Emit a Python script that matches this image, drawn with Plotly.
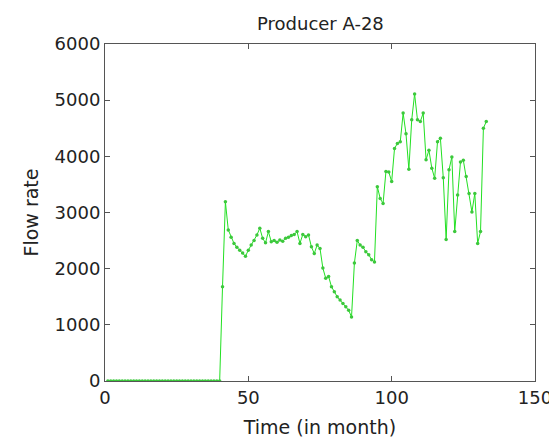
import plotly.graph_objects as go

# Months 1..40 produce nothing, then values for months 41..133
zero_months = list(range(1, 41))
zero_values = [0] * 40

prod_months = list(range(41, 134))
prod_values = [
    1680, 3190, 2690, 2560, 2450, 2380, 2330, 2280, 2220, 2330,   # 41-50
    2420, 2500, 2600, 2720, 2540, 2460, 2660, 2480, 2500, 2470,   # 51-60
    2510, 2490, 2540, 2560, 2590, 2610, 2660, 2450, 2610, 2570,   # 61-70
    2600, 2390, 2270, 2420, 2360, 2010, 1830, 1860, 1680, 1590,   # 71-80
    1500, 1440, 1380, 1320, 1260, 1140, 2100, 2500, 2420, 2380,   # 81-90
    2300, 2250, 2160, 2120, 3460, 3250, 3160, 3730, 3720, 3550,   # 91-100
    4140, 4230, 4260, 4770, 4400, 3770, 4650, 5110, 4650, 4620,   # 101-110
    4770, 3940, 4110, 3790, 3610, 4260, 4320, 3620, 2520, 3760,   # 111-120
    3990, 2660, 3310, 3900, 3930, 3640, 3340, 3010, 3340, 2450,   # 121-130
    2660, 4500, 4620,                                             # 131-133
]

months = zero_months + prod_months
values = zero_values + prod_values

x_ticks = [0, 50, 100, 150]
y_ticks = [0, 1000, 2000, 3000, 4000, 5000, 6000]

title_text = "Producer A-28"
x_title = "Time (in month)"
y_title = "Flow rate"

green = "#22e022"
font_family = "DejaVu Sans, Arial, sans-serif"

fig = go.Figure()
fig.add_trace(go.Scatter(
    x=months, y=values, mode="lines+markers",
    line=dict(color=green, width=1),
    marker=dict(color="#3cc83c", size=3.5),
    showlegend=False,
))

axis_common = dict(
    showline=True, linecolor="#555555", linewidth=1, mirror="ticks",
    ticks="inside", ticklen=5, tickcolor="#555555",
    showgrid=False, zeroline=False,
    tickfont=dict(family=font_family, size=18, color="#222222"),
)

fig.update_layout(
    width=557, height=445,
    margin=dict(l=97, r=30, t=36, b=72),
    paper_bgcolor="white", plot_bgcolor="white",
    xaxis=dict(range=[0, 150], tickvals=x_ticks,
               title=dict(text=x_title, standoff=14,
                          font=dict(family=font_family, size=19, color="#222222")),
               **axis_common),
    yaxis=dict(range=[0, 6000], tickvals=y_ticks,
               title=dict(text=y_title, standoff=10,
                          font=dict(family=font_family, size=19, color="#222222")),
               **axis_common),
    annotations=[dict(
        text=title_text, xref="paper", yref="paper", x=0.5, y=1,
        xanchor="center", yanchor="top", yshift=33, showarrow=False,
        font=dict(family=font_family, size=18, color="#222222"),
    )],
)

fig.write_html("out.html")
